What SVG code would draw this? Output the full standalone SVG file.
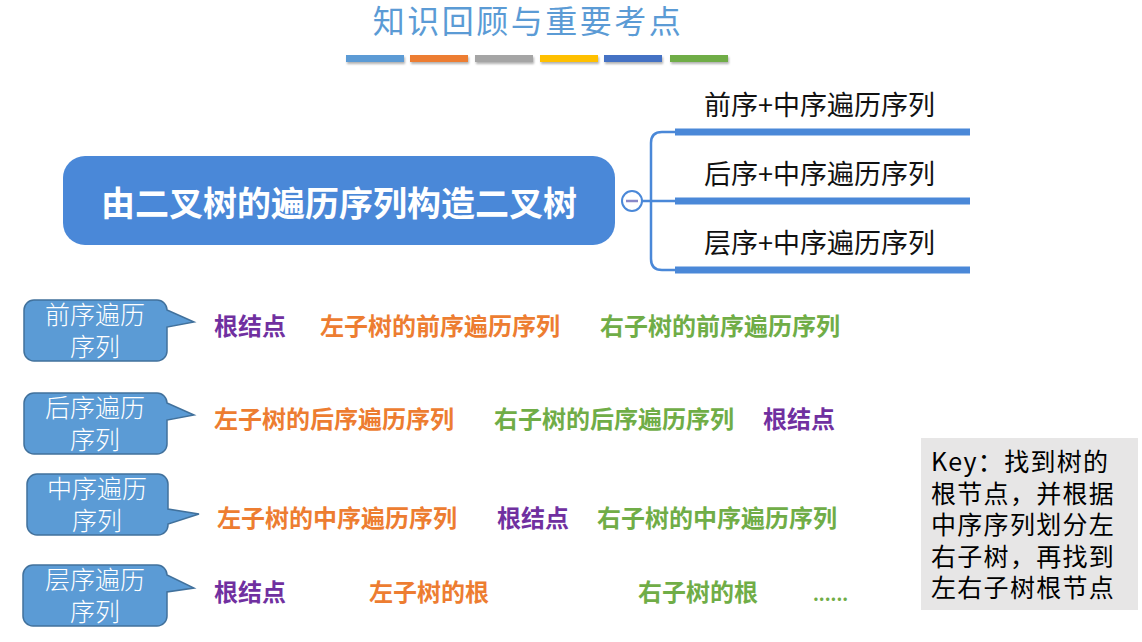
<svg xmlns="http://www.w3.org/2000/svg" width="1142" height="642" viewBox="0 0 1142 642">
<defs>
<filter id="sh" x="-10%" y="-50%" width="120%" height="250%"><feDropShadow dx="1" dy="2" stdDeviation="1.2" flood-color="#000" flood-opacity="0.3"/></filter>
</defs>
<style>
text{font-family:"Noto Sans CJK SC","Microsoft YaHei",sans-serif}
.title{font-size:32px;letter-spacing:2.5px;fill:#5b9bd5}
.main{font-size:34px;font-weight:bold;fill:#fff}
.br{font-size:27px;fill:#111}
.bar{stroke:#4a88d8;stroke-width:7}
.conn{fill:none;stroke:#4a88d8;stroke-width:2.5}
.cal{fill:#5b9bd5;stroke:#41719c;stroke-width:1.5}
.ct{font-size:25px;fill:#fff;font-weight:300}
.row{font-size:24px;font-weight:bold}
.p{fill:#7030a0}.o{fill:#ed7d31}.g{fill:#70ad47}
.key{font-size:25px;letter-spacing:1.3px;fill:#000}
</style>
<rect width="1142" height="642" fill="#fff"/>
<g id="title">
<text class="title" x="528" y="33" text-anchor="middle">知识回顾与重要考点</text>
<g filter="url(#sh)">
<rect x="346" y="55" width="58" height="7" fill="#5b9bd5"/>
<rect x="410" y="55" width="58" height="7" fill="#ed7d31"/>
<rect x="475" y="55" width="58" height="7" fill="#a5a5a5"/>
<rect x="540" y="55" width="58" height="7" fill="#ffc000"/>
<rect x="604" y="55" width="58" height="7" fill="#4472c4"/>
<rect x="670" y="55" width="58" height="7" fill="#70ad47"/>
</g>
</g>
<g id="connectors">
<path class="conn" d="M642,201 H675"/>
<path class="conn" d="M675,132 H662 Q651,132 651,143 V259 Q651,270 662,270 H675"/>
</g>
<g id="root">
<rect x="63" y="156" width="552" height="89" rx="22" fill="#4a88d8"/>
<text class="main" x="339" y="216" text-anchor="middle">由二叉树的遍历序列构造二叉树</text>
</g>
<g id="collapse">
<circle cx="632" cy="201" r="10" fill="#fff" stroke="#4a88d8" stroke-width="2"/>
<line x1="626" y1="201" x2="638" y2="201" stroke="#8888c8" stroke-width="2.5"/>
</g>
<g id="b1">
<text class="br" x="704" y="115">前序+中序遍历序列</text>
<line class="bar" x1="675" y1="132" x2="970" y2="132"/>
</g>
<g id="b2">
<text class="br" x="704" y="184">后序+中序遍历序列</text>
<line class="bar" x1="675" y1="201" x2="970" y2="201"/>
</g>
<g id="b3">
<text class="br" x="704" y="253">层序+中序遍历序列</text>
<line class="bar" x1="675" y1="270" x2="970" y2="270"/>
</g>
<g id="c1">
<path class="cal" d="M34,300 H157 A10,10 0 0 1 167,310 L194,322 L167,327 V351 A10,10 0 0 1 157,361 H34 A10,10 0 0 1 24,351 V310 A10,10 0 0 1 34,300 Z"/>
<text class="ct" x="95" y="324" text-anchor="middle">前序遍历</text>
<text class="ct" x="95" y="356" text-anchor="middle">序列</text>
</g>
<g id="c2">
<path class="cal" d="M34,393 H157 A10,10 0 0 1 167,403 L194,415 L167,420 V444 A10,10 0 0 1 157,454 H34 A10,10 0 0 1 24,444 V403 A10,10 0 0 1 34,393 Z"/>
<text class="ct" x="95" y="417" text-anchor="middle">后序遍历</text>
<text class="ct" x="95" y="449" text-anchor="middle">序列</text>
</g>
<g id="c3">
<path class="cal" d="M37,474 H158 A10,10 0 0 1 168,484 V509 L199,514 L168,524 V525 A10,10 0 0 1 158,535 H37 A10,10 0 0 1 27,525 V484 A10,10 0 0 1 37,474 Z"/>
<text class="ct" x="97" y="498" text-anchor="middle">中序遍历</text>
<text class="ct" x="97" y="530" text-anchor="middle">序列</text>
</g>
<g id="c4">
<path class="cal" d="M33,565 H157 A10,10 0 0 1 167,575 L194,588 L167,592 V616 A10,10 0 0 1 157,626 H33 A10,10 0 0 1 23,616 V575 A10,10 0 0 1 33,565 Z"/>
<text class="ct" x="95" y="589" text-anchor="middle">层序遍历</text>
<text class="ct" x="95" y="621" text-anchor="middle">序列</text>
</g>
<g id="row1">
<text class="row p" x="214" y="335">根结点</text>
<text class="row o" x="320" y="335">左子树的前序遍历序列</text>
<text class="row g" x="600" y="335">右子树的前序遍历序列</text>
</g>
<g id="row2">
<text class="row o" x="214" y="428">左子树的后序遍历序列</text>
<text class="row g" x="494" y="428">右子树的后序遍历序列</text>
<text class="row p" x="763" y="428">根结点</text>
</g>
<g id="row3">
<text class="row o" x="217" y="527">左子树的中序遍历序列</text>
<text class="row p" x="497" y="527">根结点</text>
<text class="row g" x="597" y="527">右子树的中序遍历序列</text>
</g>
<g id="row4">
<text class="row p" x="214" y="601">根结点</text>
<text class="row o" x="369" y="601">左子树的根</text>
<text class="row g" x="638" y="601">右子树的根</text>
<text class="g" x="813" y="601" font-size="18" font-weight="bold">......</text>
</g>
<g id="key">
<rect x="921" y="438" width="217" height="172" fill="#e7e6e6"/>
<text class="key" x="931" y="471">Key：找到树的</text>
<text class="key" x="931" y="503">根节点，并根据</text>
<text class="key" x="931" y="534">中序序列划分左</text>
<text class="key" x="931" y="566">右子树，再找到</text>
<text class="key" x="931" y="597">左右子树根节点</text>
</g>
</svg>
